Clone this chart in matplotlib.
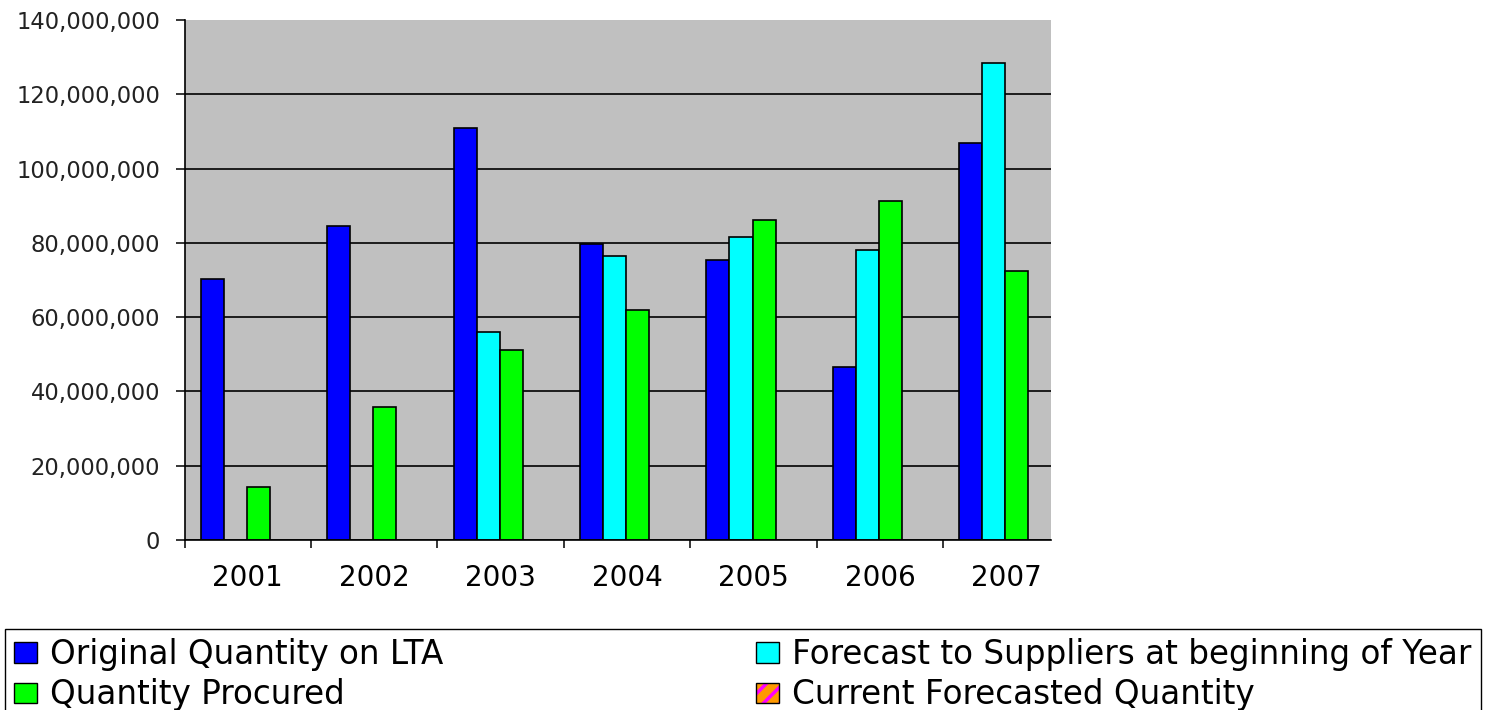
#!/usr/bin/env python3
import numpy as np
import matplotlib
matplotlib.use("Agg")
import matplotlib.pyplot as plt
from matplotlib.patches import Patch
from matplotlib.legend_handler import HandlerTuple
from matplotlib.ticker import FuncFormatter

# values in millions (nan = no bar)
years = ["2001", "2002", "2003", "2004", "2005", "2006", "2007"]
original_lta = [70.3, 84.5, 110.8, 79.6, 75.4, 46.7, 106.8]
forecast_suppliers = [np.nan, np.nan, 56.0, 76.6, 81.7, 78.0, 128.5]
procured = [14.3, 35.8, 51.2, 61.9, 86.2, 91.4, 72.5]
current_forecast = [np.nan] * 7

series = [
    ("Original Quantity on LTA", original_lta, "#0000ff"),
    ("Forecast to Suppliers at beginning of Year", forecast_suppliers, "#00ffff"),
    ("Quantity Procured", procured, "#00ff00"),
    ("Current Forecasted Quantity", current_forecast, "#ff9900"),
]

plt.rcParams["hatch.linewidth"] = 2.5

fig = plt.figure(figsize=(14.87, 7.10), dpi=100)
ax = fig.add_axes([0.1241, 0.2394, 0.7066 - 0.1241, 0.9718 - 0.2394])
ax.set_facecolor("#c0c0c0")

x = np.arange(len(years))
w = 0.182
for k, (name, vals, col) in enumerate(series):
    ax.bar(x - 0.282 + w * k, np.array(vals) * 1e6, width=w,
           color=col, edgecolor="black", linewidth=1.2, zorder=3)

ax.set_xlim(-0.5, 6.349)
ax.set_ylim(0, 140e6)
ax.set_yticks(np.arange(0, 140e6 + 1, 20e6))
ax.yaxis.set_major_formatter(FuncFormatter(lambda v, p: f"{v:,.0f}"))
ax.tick_params(axis="y", labelsize=16.3, labelcolor="#222222", length=6.5,
               width=1.1, pad=11)

# category labels centred, ticks on group boundaries
ax.set_xticks(x)
ax.set_xticklabels(years, fontsize=20)
ax.set_xticks(np.arange(-0.5, 6.5, 1.0), minor=True)
ax.tick_params(axis="x", which="major", length=0, pad=17)
ax.tick_params(axis="x", which="minor", length=5.8, width=1.1)

ax.yaxis.grid(True, color="black", linewidth=1.2, zorder=1)
ax.set_axisbelow(True)
ax.yaxis.get_gridlines()[-1].set_visible(False)
for s in ["top", "right"]:
    ax.spines[s].set_visible(False)
for s in ["left", "bottom"]:
    ax.spines[s].set_linewidth(1.2)
    ax.spines[s].set_zorder(4)

# legend
h_orig = Patch(facecolor="#0000ff", edgecolor="black", linewidth=1)
h_proc = Patch(facecolor="#00ff00", edgecolor="black", linewidth=1)
h_fcst = Patch(facecolor="#00ffff", edgecolor="black", linewidth=1)
h_curr = (Patch(facecolor="#ff9900", edgecolor="#ff00ff", hatch="//", linewidth=0),
          Patch(facecolor="none", edgecolor="black", linewidth=1))
leg = fig.legend([h_orig, h_proc, h_fcst, h_curr],
                 [series[0][0], series[2][0], series[1][0], series[3][0]],
                 handler_map={tuple: HandlerTuple(ndivide=1)},
                 ncol=2, mode="expand", loc="upper left",
                 bbox_to_anchor=(0.0034, -0.1, 0.9924, 0.2141),
                 borderaxespad=0, fontsize=23.5, handlelength=0.7,
                 handleheight=0.58, handletextpad=0.4, labelspacing=0.22,
                 borderpad=0.28, fancybox=False, framealpha=1,
                 edgecolor="black")
leg.get_frame().set_linewidth(1.0)

fig.savefig("out.png", dpi=100)
